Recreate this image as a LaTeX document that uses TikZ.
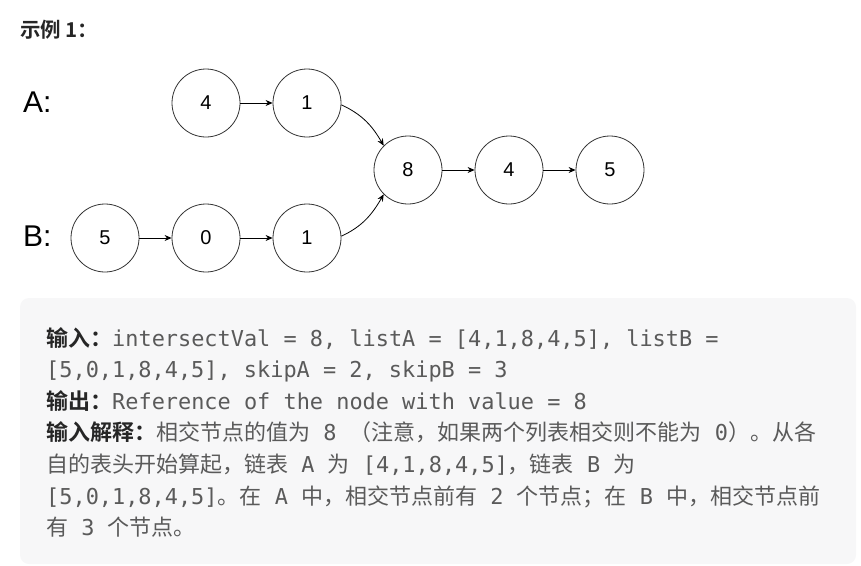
\documentclass[tikz,border=0pt]{standalone}
\usepackage{fontspec}
\usepackage{xcolor}
\usetikzlibrary{arrows.meta, positioning}
\setmainfont{DejaVu Sans Mono}
\newfontfamily\cjk{Noto Sans CJK SC}
\newfontfamily\cjkb{Noto Sans CJK SC Bold}
\newfontfamily\lblfont{Liberation Sans}
\definecolor{boxgray}{HTML}{F7F7F8}
\definecolor{bodygray}{HTML}{5A5A5A}
\definecolor{headgray}{HTML}{262626}
\definecolor{ringgray}{HTML}{333333}
\newcommand{\zh}[1]{{\cjk\fontsize{22}{31.6}\selectfont #1}}
\newcommand{\zhb}[1]{{\cjkb\fontsize{22}{31.6}\selectfont\color{headgray}#1}}

\begin{document}
\begin{tikzpicture}[
        x=1pt, y=-1pt,
        ring/.style={circle, draw=ringgray, line width=0.8pt, minimum size=68pt, inner sep=0pt,
            font=\lblfont\fontsize{20}{24}\selectfont},
        arrow/.style={-{Stealth[length=7pt, width=6pt]}, line width=0.8pt},
        listname/.style={anchor=base west, inner sep=0pt, font=\lblfont\fontsize{30}{34}\selectfont},
        txt/.style={anchor=base west, inner sep=0pt, text=bodygray, font=\fontsize{21.9}{31.6}\selectfont}
    ]
        \useasboundingbox (0,0) rectangle (861,565);
        \fill[boxgray, rounded corners=9pt] (20,298) rectangle (856,564);

        \node[anchor=base west, inner sep=0pt, text=headgray, font=\cjkb\fontsize{20.5}{24}\selectfont] (title) at (20,37) {示例 1：};

        \node[listname] (A) at (23,112) {A:};
        \node[listname] (B) at (23,246) {B:};

        \node[ring] (a1) at (206,103) {4};
        \node[ring] (a2) at (307,103) {1};
        \node[ring] (b1) at (105,238) {5};
        \node[ring] (b2) at (206,238) {0};
        \node[ring] (b3) at (307,238) {1};
        \node[ring] (c1) at (408,170) {8};
        \node[ring] (c2) at (509,170) {4};
        \node[ring] (c3) at (610,170) {5};

        \draw[arrow] (a1) -- (a2);
        \draw[arrow] (b1) -- (b2);
        \draw[arrow] (b2) -- (b3);
        \draw[arrow] (c1) -- (c2);
        \draw[arrow] (c2) -- (c3);
        \draw[arrow] (a2.-3) to[out=-25, in=120] (c1.135);
        \draw[arrow] (b3.3) to[out=25, in=-120] (c1.225);

        \node[txt] (l1) at (46,346) {\zhb{输入：}intersectVal = 8, listA = [4,1,8,4,5], listB =};
        \node[txt] (l2) at (46,377.6) {[5,0,1,8,4,5], skipA = 2, skipB = 3};
        \node[txt] (l3) at (46,409.2) {\zhb{输出：}Reference of the node with value = 8};
        \node[txt] (l4) at (46,440.8) {\zhb{输入解释：}\zh{相交节点的值为} 8 \zh{（注意，如果两个列表相交则不能为} 0\zh{）。从各}};
        \node[txt] (l5) at (46,472.4) {\zh{自的表头开始算起，链表} A \zh{为} [4,1,8,4,5]\zh{，链表} B \zh{为}};
        \node[txt] (l6) at (46,504) {[5,0,1,8,4,5]\zh{。在} A \zh{中，相交节点前有} 2 \zh{个节点；在} B \zh{中，相交节点前}};
        \node[txt] (l7) at (46,535.6) {\zh{有} 3 \zh{个节点。}};
    \end{tikzpicture}
\end{document}
